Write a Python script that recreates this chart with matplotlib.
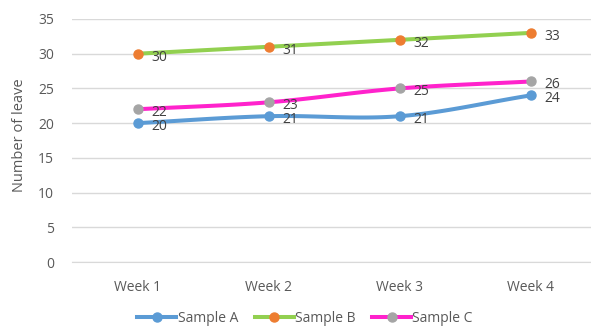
import numpy as np
import matplotlib.pyplot as plt
from matplotlib.lines import Line2D

# weekly leaf counts per sample
weeks = ['Week 1', 'Week 2', 'Week 3', 'Week 4']
sample_a = [20, 21, 21, 24]
sample_b = [30, 31, 32, 33]
sample_c = [22, 23, 25, 26]

plt.rcParams['font.family'] = ['Open Sans', 'DejaVu Sans']
txt = '#595959'


def smooth(xs, ys, n=30):
    # Catmull-Rom style curve through the points (spreadsheet "smoothed line")
    xs = np.asarray(xs, float)
    ys = np.asarray(ys, float)
    px = np.concatenate([[2 * xs[0] - xs[1]], xs, [2 * xs[-1] - xs[-2]]])
    py = np.concatenate([[2 * ys[0] - ys[1]], ys, [2 * ys[-1] - ys[-2]]])
    ox, oy = [], []
    t = np.linspace(0, 1, n)
    for i in range(1, len(px) - 2):
        for p, out in ((px, ox), (py, oy)):
            p0, p1, p2, p3 = p[i - 1], p[i], p[i + 1], p[i + 2]
            out.extend(0.5 * ((2 * p1) + (-p0 + p2) * t
                              + (2 * p0 - 5 * p1 + 4 * p2 - p3) * t ** 2
                              + (-p0 + 3 * p1 - 3 * p2 + p3) * t ** 3))
    return ox, oy


fig = plt.figure(figsize=(5.91, 3.26), dpi=100)
ax = fig.add_axes([72 / 591, 64 / 326, 519 / 591, 243 / 326])

x = np.arange(len(weeks))
series = [
    ('Sample A', sample_a, '#5B9BD5', '#5B9BD5'),
    ('Sample B', sample_b, '#92D050', '#ED7D31'),
    ('Sample C', sample_c, '#FF22CC', '#A5A5A5'),
]

handles = []
for name, vals, lc, mc in series:
    sx, sy = smooth(x, vals)
    ax.plot(sx, sy, color=lc, lw=2.9, solid_capstyle='round', zorder=3)
    ax.plot(x, vals, 'o', color=mc, ms=6.5, zorder=4)
    for xi, v in zip(x, vals):
        ax.annotate(str(v), (xi, v), xytext=(10, -2.5), textcoords='offset points',
                    va='center', ha='left', fontsize=10, color='#404040', zorder=5)
    handles.append(Line2D([], [], color=lc, lw=2.9, marker='o', ms=6.5,
                          markerfacecolor=mc, markeredgecolor=mc))

ax.set_xlim(-0.5, 3.46)
ax.set_ylim(0, 35)
ax.set_yticks(range(0, 36, 5))
ax.set_xticks(x)
ax.set_xticklabels(weeks)
ax.grid(axis='y', color='#D9D9D9', lw=1)
ax.set_axisbelow(True)
for s in ['top', 'right', 'left']:
    ax.spines[s].set_visible(False)
ax.spines['bottom'].set_color('#D9D9D9')
ax.tick_params(length=0, labelsize=10, colors=txt)
ax.tick_params(axis='x', pad=13)
ax.tick_params(axis='y', pad=13)
ax.set_ylabel('Number of leave', fontsize=10.5, color=txt)
ax.yaxis.set_label_coords(-0.087, 0.52)

fig.legend(handles, ['Sample A', 'Sample B', 'Sample C'], loc='center',
           bbox_to_anchor=(305 / 591, 1 - 318 / 326), ncol=3, frameon=False,
           fontsize=10, labelcolor=txt, handlelength=2.8, handletextpad=0.1,
           columnspacing=1.2)

fig.savefig('out.png', dpi=100)
